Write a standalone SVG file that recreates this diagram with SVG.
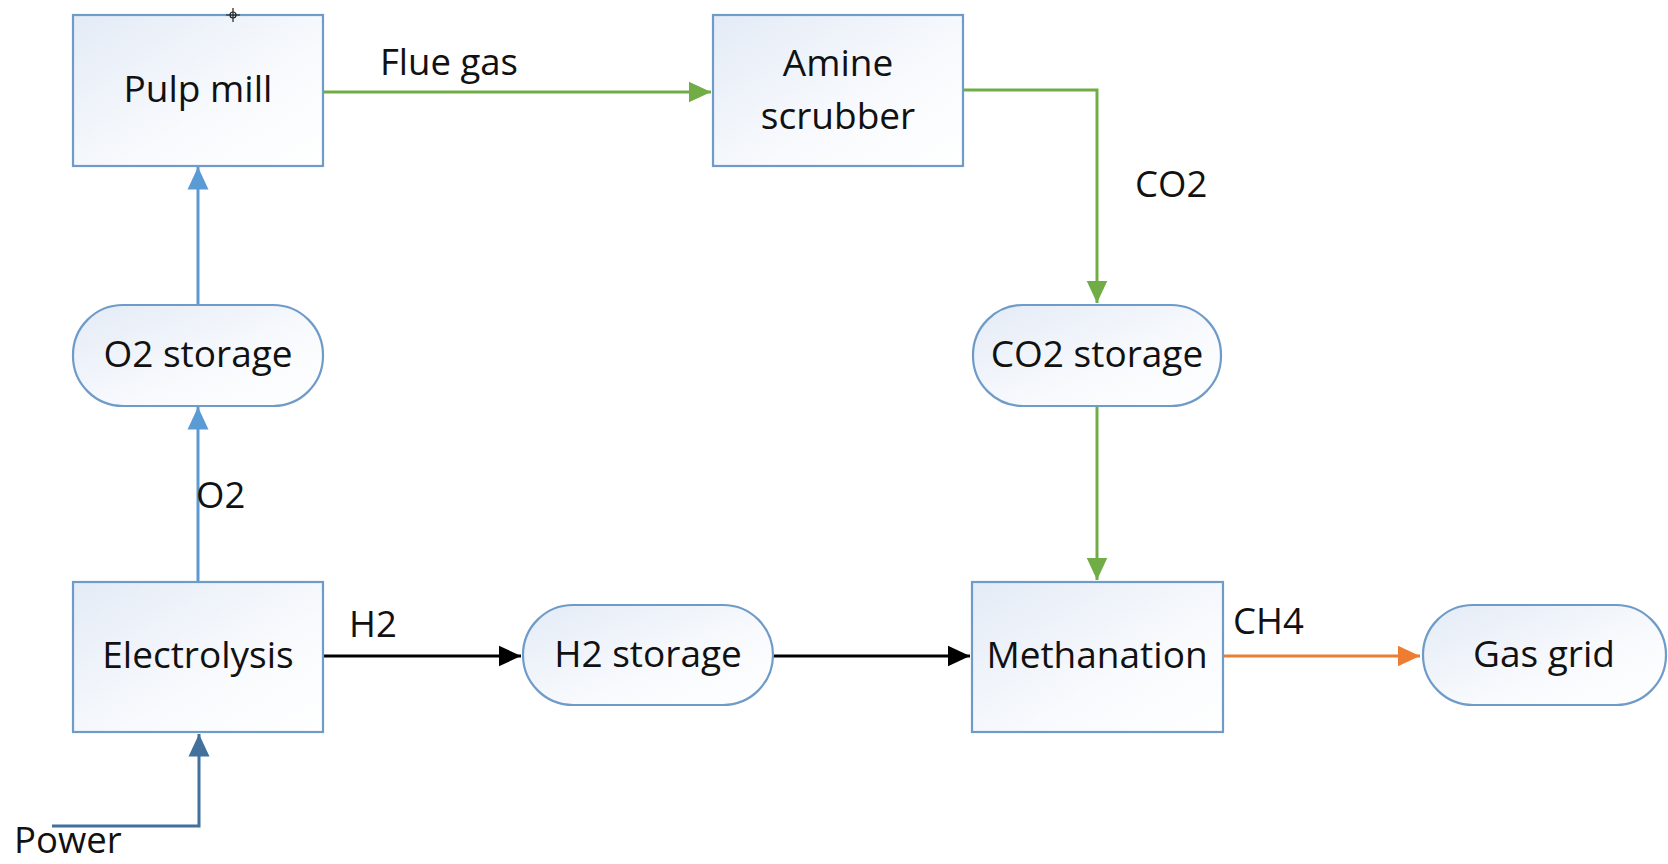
<svg xmlns="http://www.w3.org/2000/svg" width="1668" height="864" viewBox="0 0 1668 864">
<style>
.box{stroke:#6f9bc8;stroke-width:2.2;fill:url(#g)}
.t{font-family:"Open Sans","Noto Sans",sans-serif;font-size:37px;fill:#111;text-anchor:middle}
.l{font-family:"Open Sans","Noto Sans",sans-serif;font-size:36.5px;fill:#111}
.c{fill:none;stroke-width:3}
</style>
<defs>
<linearGradient id="g" x1="0" y1="0" x2="1" y2="1">
<stop offset="0" stop-color="#e4ebf6"/>
<stop offset="0.6" stop-color="#f8fafd"/>
<stop offset="1" stop-color="#ffffff"/>
</linearGradient>
<marker id="ag" markerWidth="9" markerHeight="9" refX="7.5" refY="4.5" orient="auto" markerUnits="strokeWidth"><path d="M0,1 L7.5,4.5 L0,8 Z" fill="#70ad47"/></marker>
<marker id="ab" markerWidth="9" markerHeight="9" refX="7.5" refY="4.5" orient="auto" markerUnits="strokeWidth"><path d="M0,1 L7.5,4.5 L0,8 Z" fill="#5b9bd5"/></marker>
<marker id="ad" markerWidth="9" markerHeight="9" refX="7.5" refY="4.5" orient="auto" markerUnits="strokeWidth"><path d="M0,1 L7.5,4.5 L0,8 Z" fill="#41719c"/></marker>
<marker id="ak" markerWidth="9" markerHeight="9" refX="7.5" refY="4.5" orient="auto" markerUnits="strokeWidth"><path d="M0,1 L7.5,4.5 L0,8 Z" fill="#000"/></marker>
<marker id="ao" markerWidth="9" markerHeight="9" refX="7.5" refY="4.5" orient="auto" markerUnits="strokeWidth"><path d="M0,1 L7.5,4.5 L0,8 Z" fill="#ed7d31"/></marker>
</defs>
<rect width="1668" height="864" fill="#fff"/>
<g id="connectors">
<path class="c" d="M323,92 L711,92" stroke="#70ad47" marker-end="url(#ag)"/>
<path class="c" d="M963,90 L1097,90 L1097,303" stroke="#70ad47" marker-end="url(#ag)"/>
<path class="c" d="M1097,406 L1097,580" stroke="#70ad47" marker-end="url(#ag)"/>
<path class="c" d="M198,305 L198,167" stroke="#5b9bd5" marker-end="url(#ab)"/>
<path class="c" d="M198,582 L198,407" stroke="#5b9bd5" marker-end="url(#ab)"/>
<path class="c" d="M52,826 L199,826 L199,734" stroke="#41719c" marker-end="url(#ad)"/>
<path class="c" d="M323,656 L521,656" stroke="#000" marker-end="url(#ak)"/>
<path class="c" d="M773,656 L970,656" stroke="#000" marker-end="url(#ak)"/>
<path class="c" d="M1223,656 L1420,656" stroke="#ed7d31" marker-end="url(#ao)"/>
<text class="l" x="380" y="75">Flue gas</text>
<text class="l" x="1135" y="197">CO2</text>
<text class="l" x="196" y="508">O2</text>
<text class="l" x="349" y="637">H2</text>
<text class="l" x="1233" y="634">CH4</text>
<text class="l" x="14" y="853" style="font-size:36.5px">Power</text>
</g>
<g id="pulp-mill"><rect class="box" x="73" y="15" width="250" height="151"/><text class="t" x="198" y="102">Pulp mill</text>
<g stroke="#222" stroke-width="1.2" fill="none"><circle cx="233" cy="15" r="3"/><path d="M233,8 L233,22 M226,15 L240,15"/></g></g>
<g id="amine-scrubber"><rect class="box" x="713" y="15" width="250" height="151"/><text class="t" x="838" y="76">Amine</text><text class="t" x="838" y="129">scrubber</text></g>
<g id="o2-storage"><rect class="box" x="73" y="305" width="250" height="101" rx="50"/><text class="t" x="198" y="367">O2 storage</text></g>
<g id="co2-storage"><rect class="box" x="973" y="305" width="248" height="101" rx="50"/><text class="t" x="1097" y="367">CO2 storage</text></g>
<g id="electrolysis"><rect class="box" x="73" y="582" width="250" height="150"/><text class="t" x="198" y="668">Electrolysis</text></g>
<g id="h2-storage"><rect class="box" x="523" y="605" width="250" height="100" rx="50"/><text class="t" x="648" y="667">H2 storage</text></g>
<g id="methanation"><rect class="box" x="972" y="582" width="251" height="150"/><text class="t" x="1097" y="668">Methanation</text></g>
<g id="gas-grid"><rect class="box" x="1423" y="605" width="243" height="100" rx="50"/><text class="t" x="1544" y="667">Gas grid</text></g>
</svg>
